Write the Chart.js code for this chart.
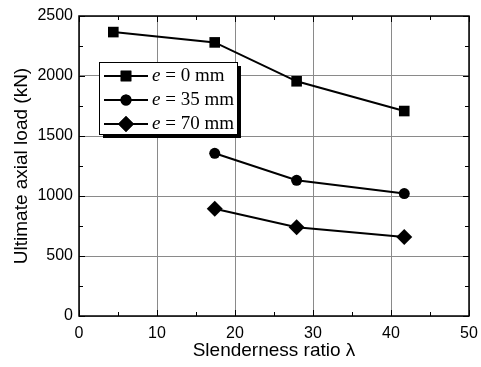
<!DOCTYPE html>
<html>
<head>
<meta charset="utf-8">
<script src="https://cdn.jsdelivr.net/npm/chart.js@4.4.0/dist/chart.umd.min.js"></script>
<style>
  html, body { margin: 0; padding: 0; background: #fff; }
  #wrap { width: 481px; height: 367px; }
</style>
</head>
<body>
<div id="wrap"><canvas id="myChart"></canvas></div>
<script>
// slenderness ratio of the specimens
const lambda0 = [4.4, 17.4, 27.9, 41.7];
const lambdaE = [17.4, 27.9, 41.7];
// ultimate axial load (kN)
const load0 = [2366, 2280, 1956, 1708];
const load35 = [1356, 1131, 1020];
const load70 = [893, 739, 659];

const seriesNames = ['0 mm', '35 mm', '70 mm'];
const markers = ['rect', 'circle', 'rectRot'];
const markerSizes = [7.5, 5.5, 8];

function pts(xs, ys) {
  return xs.map((x, i) => ({ x: x, y: ys[i] }));
}

// frame, inward ticks and boxed legend with shadow
const decor = {
  id: 'decor',
  afterDraw(chart) {
    const ctx = chart.ctx;
    const a = chart.chartArea;
    const xs = chart.scales.x, ys = chart.scales.y;
    ctx.save();
    ctx.strokeStyle = '#000';
    ctx.lineWidth = 1.5;
    ctx.strokeRect(a.left, a.top, a.right - a.left, a.bottom - a.top);
    ctx.lineWidth = 1;
    ctx.beginPath();
    for (let v = 0; v <= 50; v += 5) {
      const px = Math.round(xs.getPixelForValue(v)) + 0.5;
      const len = v % 10 === 0 ? 6 : 4;
      ctx.moveTo(px, a.bottom); ctx.lineTo(px, a.bottom - len);
      ctx.moveTo(px, a.top); ctx.lineTo(px, a.top + len);
    }
    for (let v = 0; v <= 2500; v += 250) {
      const py = Math.round(ys.getPixelForValue(v)) + 0.5;
      const len = v % 500 === 0 ? 6 : 4;
      ctx.moveTo(a.left, py); ctx.lineTo(a.left + len, py);
      ctx.moveTo(a.right, py); ctx.lineTo(a.right - len, py);
    }
    ctx.stroke();

    // legend
    const bx = 99, by = 62, bw = 138, bh = 72;
    ctx.fillStyle = '#000';
    ctx.fillRect(bx + 4, by + 4, bw, bh);
    ctx.fillStyle = '#fff';
    ctx.fillRect(bx, by, bw, bh);
    ctx.strokeStyle = '#000';
    ctx.lineWidth = 1;
    ctx.strokeRect(bx + 0.5, by + 0.5, bw, bh);
    chart.data.datasets.forEach((ds, i) => {
      const cy = 76 + i * 24;
      ctx.strokeStyle = '#000';
      ctx.lineWidth = 2;
      ctx.beginPath();
      ctx.moveTo(104, cy); ctx.lineTo(148, cy);
      ctx.stroke();
      ctx.fillStyle = '#000';
      Chart.helpers.drawPoint(ctx, { pointStyle: markers[i], radius: markerSizes[i], borderWidth: 0 }, 126, cy);
      ctx.fill();
      ctx.textBaseline = 'middle';
      ctx.textAlign = 'left';
      ctx.font = 'italic 19px "Liberation Serif", serif';
      ctx.fillText('e', 152, cy);
      const w = ctx.measureText('e').width;
      ctx.font = '19px "Liberation Serif", serif';
      ctx.fillText(' = ' + seriesNames[i], 152 + w, cy);
    });
    ctx.restore();
  }
};

const plain = v => String(v);

const ctx = document.getElementById('myChart').getContext('2d');
new Chart(ctx, {
  type: 'scatter',
  data: {
    datasets: [
      { label: 'e = 0 mm', data: pts(lambda0, load0) },
      { label: 'e = 35 mm', data: pts(lambdaE, load35) },
      { label: 'e = 70 mm', data: pts(lambdaE, load70) }
    ].map((d, i) => Object.assign(d, {
      showLine: true,
      borderColor: '#000',
      backgroundColor: '#000',
      borderWidth: 2,
      pointStyle: markers[i],
      pointRadius: markerSizes[i],
      pointBorderWidth: 0,
      pointBackgroundColor: '#000'
    }))
  },
  options: {
    responsive: true,
    maintainAspectRatio: false,
    animation: false,
    layout: { padding: { top: 16, right: 12, left: 0, bottom: 0 } },
    plugins: { legend: { display: false }, tooltip: { enabled: false } },
    scales: {
      x: {
        type: 'linear', min: 0, max: 50,
        ticks: { stepSize: 10, color: '#000', padding: 8, callback: plain, font: { family: '"Liberation Sans", Arial', size: 16 } },
        grid: { color: '#8a8a8a', drawTicks: false },
        border: { display: false },
        title: { display: true, text: 'Slenderness ratio λ', color: '#000', padding: { top: 0, bottom: 5 }, font: { family: '"Liberation Sans", Arial', size: 19 } },
        afterFit(s) { s.height = 51; s.paddingLeft = 0; s.paddingRight = 0; }
      },
      y: {
        min: 0, max: 2500,
        ticks: { stepSize: 500, color: '#000', padding: 6, callback: plain, font: { family: '"Liberation Sans", Arial', size: 16 } },
        grid: { color: '#8a8a8a', drawTicks: false },
        border: { display: false },
        title: { display: true, text: 'Ultimate axial load (kN)', color: '#000', padding: { top: 10, bottom: 0 }, font: { family: '"Liberation Sans", Arial', size: 19 } },
        afterFit(s) { s.width = 79; s.paddingTop = 0; s.paddingBottom = 0; }
      }
    }
  },
  plugins: [decor]
});
</script>
</body>
</html>
